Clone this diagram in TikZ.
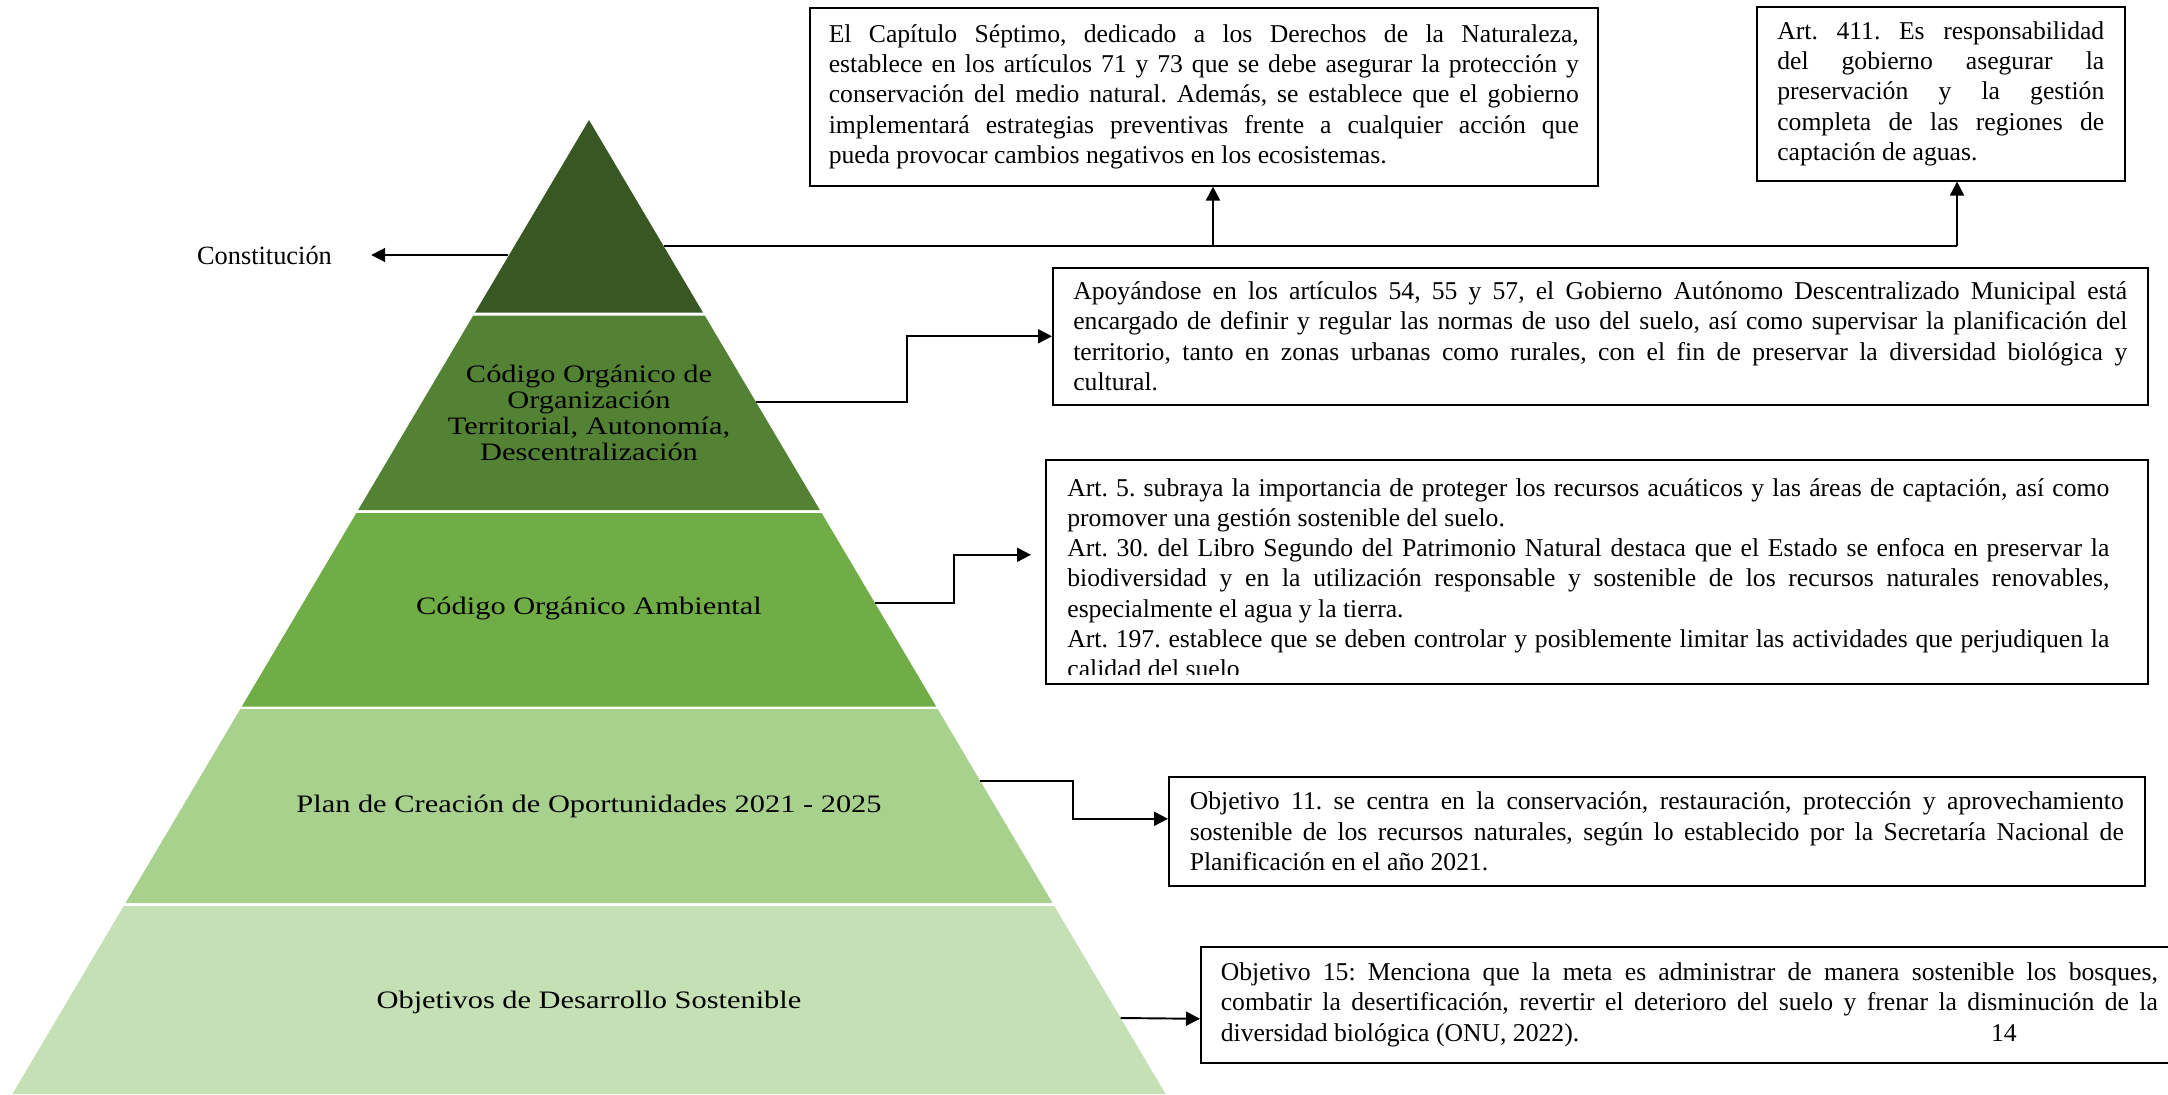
\documentclass[tikz,border=0pt]{standalone}
\usepackage{fontspec}
\setmainfont{Liberation Serif}
\newfontfamily\tierfont{Liberation Serif}[FakeStretch=1.21]
\usepackage{xcolor}
\usepackage{tikz}
\usetikzlibrary{positioning,arrows.meta}
\definecolor{TierOne}{RGB}{56,87,35}
\definecolor{TierTwo}{RGB}{84,130,53}
\definecolor{TierThree}{RGB}{112,173,71}
\definecolor{TierFour}{RGB}{169,209,142}
\definecolor{TierFive}{RGB}{197,224,180}
\frenchspacing
\hyphenpenalty=10000
\exhyphenpenalty=10000
\tolerance=10000
\pretolerance=10000
\hbadness=10000

\begin{document}
\begin{tikzpicture}[
  font=\fontsize{14.6}{17.2}\selectfont,
  tier/.style={font=\tierfont\fontsize{14.3}{14.7}\selectfont, align=center, inner sep=0pt},
  textbox/.style={draw=black, line width=0.9pt, anchor=north west, align=justify, inner ysep=0pt},
  arrow/.style={-{Triangle[length=2.8mm,width=2.8mm]}, line width=1.1pt},
  link/.style={line width=0.9pt}
]
\useasboundingbox (0,0) rectangle (43.36,-21.88);

% Pyramid tiers
\foreach \top/\bot/\col in {0/3.85/TierOne, 3.91/7.80/TierTwo, 7.86/11.73/TierThree, 11.78/15.66/TierFour, 15.72/19.48/TierFive}
  \fill[\col] ({11.78-0.592*\top},{-2.40-\top}) -- ({11.78+0.592*\top},{-2.40-\top}) -- ({11.78+0.592*\bot},{-2.40-\bot}) -- ({11.78-0.592*\bot},{-2.40-\bot}) -- cycle;

\node[tier] (cootadlbl) at (11.78,-8.26) {Código Orgánico de\\Organización\\Territorial, Autonomía,\\Descentralización};
\node[tier] (coalbl) at (11.78,-12.17) {Código Orgánico Ambiental};
\node[tier] (planlbl) at (11.78,-16.12) {Plan de Creación de Oportunidades 2021 - 2025};
\node[tier] (odslbl) at (11.78,-20.05) {Objetivos de Desarrollo Sostenible};

% Points on the pyramid edges
\coordinate (cst) at (10.16,-5.10);
\coordinate (ctop) at (13.27,-4.92);
\coordinate (jone) at (24.26,-4.92);
\coordinate (jtwo) at (39.14,-4.92);
\coordinate (ccot) at (15.12,-8.04);
\coordinate (ccoa) at (17.50,-12.06);
\coordinate (cplan) at (19.60,-15.62);
\coordinate (cods) at (22.41,-20.36);

% Left label
\node[font=\fontsize{15}{18}\selectfont, inner xsep=0.78cm] (constitucion) at (5.29,-5.10) {Constitución};

% Text boxes
\node[textbox, text width=15.0cm, inner xsep=0.38cm, minimum height=3.56cm] (capitulo) at (16.18,-0.14) {El Capítulo Séptimo, dedicado a los Derechos de la Naturaleza,\linebreak establece en los artículos 71 y 73 que se debe asegurar la protección y\linebreak conservación del medio natural. Además, se establece que el gobierno\linebreak implementará estrategias preventivas frente a cualquier acción que\linebreak pueda provocar cambios negativos en los ecosistemas.};
\node[textbox, text width=6.54cm, inner xsep=0.41cm, minimum height=3.48cm] (art411) at (35.12,-0.12) {Art. 411. Es responsabilidad\linebreak del gobierno asegurar la\linebreak preservación y la gestión\linebreak completa de las regiones de\linebreak captación de aguas.};
\node[textbox, text width=21.08cm, inner xsep=0.41cm, minimum height=2.74cm] (cootad) at (21.04,-5.34) {Apoyándose en los artículos 54, 55 y 57, el Gobierno Autónomo Descentralizado Municipal está\linebreak encargado de definir y regular las normas de uso del suelo, así como supervisar la planificación del\linebreak territorio, tanto en zonas urbanas como rurales, con el fin de preservar la diversidad biológica y\linebreak cultural.};
\node[textbox, minimum width=22.04cm, minimum height=4.48cm] (coa) at (20.90,-9.18) {};
\begin{scope}
  \clip ([yshift=0.20cm]coa.south west) rectangle (coa.north east);
  \node[anchor=north west, text width=20.84cm, align=justify, inner sep=0pt] (coatext) at ([xshift=0.44cm,yshift=-0.38cm]coa.north west) {Art. 5. subraya la importancia de proteger los recursos acuáticos y las áreas de captación, así como\linebreak promover una gestión sostenible del suelo.\\ Art. 30. del Libro Segundo del Patrimonio Natural destaca que el Estado se enfoca en preservar la\linebreak biodiversidad y en la utilización responsable y sostenible de los recursos naturales renovables,\linebreak especialmente el agua y la tierra.\\ Art. 197. establece que se deben controlar y posiblemente limitar las actividades que perjudiquen la\linebreak calidad del suelo};
\end{scope}
\node[textbox, text width=18.68cm, inner xsep=0.42cm, minimum height=2.18cm] (plan) at (23.36,-15.52) {Objetivo 11. se centra en la conservación, restauración, protección y aprovechamiento\linebreak sostenible de los recursos naturales, según lo establecido por la Secretaría Nacional de\linebreak Planificación en el año 2021.};
\node[textbox, text width=18.74cm, inner xsep=0.40cm, minimum height=2.32cm] (ods) at (24.00,-18.92) {Objetivo 15: Menciona que la meta es administrar de manera sostenible los bosques,\linebreak combatir la desertificación, revertir el deterioro del suelo y frenar la disminución de la\linebreak diversidad biológica (ONU, 2022).\hskip 0pt plus 1filll 14\hspace*{2.82cm}\mbox{}};

% Connectors
\draw[arrow] (cst) -- (constitucion);
\draw[link] (ctop) -- (jtwo);
\draw[arrow] (jone) -- (capitulo.south -| jone);
\draw[arrow] (jtwo) -- (art411.south -| jtwo);
\draw[arrow] (ccot) -- ++(3.02,0) |- (cootad.west);
\draw[arrow] (ccoa) -- ++(1.58,0) |- ([xshift=-0.28cm,yshift=0.34cm]coa.west);
\draw[arrow] (cplan) -- ++(1.86,0) |- ([yshift=0.25cm]plan.west);
\draw[arrow] (cods) -- ([yshift=-0.28cm]ods.west);
\end{tikzpicture}
\end{document}
